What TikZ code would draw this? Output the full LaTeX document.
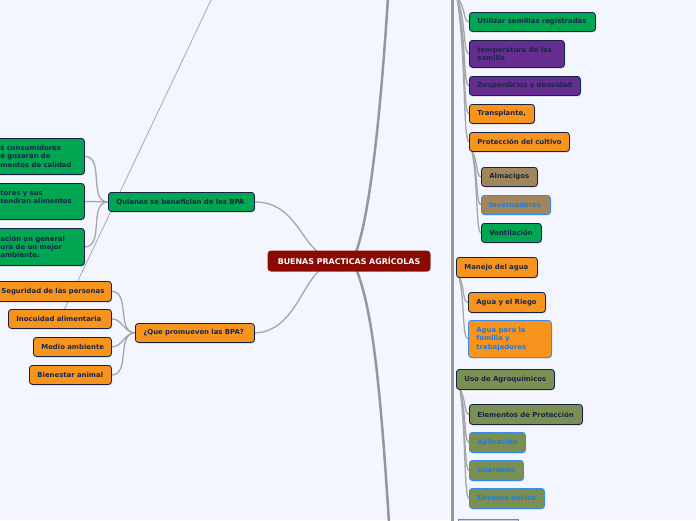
\documentclass[tikz,border=0pt]{standalone}
\usepackage{fontspec}
\setmainfont{DejaVu Sans}
\usetikzlibrary{shadows}
\definecolor{bg}{RGB}{243,246,254}
\definecolor{cgreen}{RGB}{0,166,81}
\definecolor{cpurple}{RGB}{102,45,145}
\definecolor{corange}{RGB}{247,148,29}
\definecolor{cbrown}{RGB}{160,134,90}
\definecolor{colive}{RGB}{122,143,82}
\definecolor{cred}{RGB}{140,10,4}
\definecolor{navy}{RGB}{22,34,68}
\definecolor{txt}{RGB}{26,38,72}
\definecolor{bluetxt}{RGB}{31,122,224}
\definecolor{bluebord}{RGB}{55,140,235}
\definecolor{lgrey}{RGB}{165,165,170}
\definecolor{mgrey}{RGB}{150,150,155}
\definecolor{dgline}{RGB}{175,175,182}
\pgfdeclarelayer{back}
\pgfdeclarelayer{lines}
\pgfsetlayers{back,lines,main}
\tikzset{
  box/.style={draw=navy, line width=0.8pt, rounded corners=3pt,
    font=\bfseries\fontsize{6.9}{8.3}\selectfont, text=txt,
    inner xsep=8pt, inner ysep=0pt, anchor=north west, align=left,
    drop shadow={shadow xshift=0.6pt, shadow yshift=-0.9pt, opacity=0.25, fill=black}},
  blueb/.style={draw=bluebord, text=bluetxt},
  conn/.style={draw=lgrey, line width=1.3pt},
  mainline/.style={draw=mgrey, line width=2.5pt},
  trunkline/.style={draw=mgrey, line width=3pt},
  diagline/.style={draw=dgline, line width=0.9pt}
}
\newcommand\mybox[7]{%
  \pgfmathsetmacro\bw{#4-#2}%
  \pgfmathsetmacro\bh{#5-#3}%
  \pgfmathsetmacro\tw{#4-#2-16}%
  \node[box,#6,minimum width=\bw pt,minimum height=\bh pt,text width=\tw pt] (#1) at (#2,#3) {#7};}
\begin{document}
\begin{tikzpicture}[x=1pt,y=-1pt]
\useasboundingbox (0,0) rectangle (696,520);
\begin{pgfonlayer}{back}
\fill[bg] (0,0) rectangle (696,520);
\end{pgfonlayer}

% center
\node[box, anchor=center, fill=cred, draw=cred, text=white, align=center,
  font=\bfseries\fontsize{7.9}{9}\selectfont, minimum width=162pt, minimum height=20pt] (cen) at (349,261) {BUENAS PRACTICAS AGRÍCOLAS};

% left side
\mybox{qb}{108}{192}{254}{211}{fill=cgreen}{\mbox{Quienes se benefician de las BPA}}
\mybox{lb1}{-8}{138}{84}{174}{fill=cgreen}{\mbox{s consumidores}\\\mbox{e gozaran de}\\\mbox{mentos de calidad}}
\mybox{lb2}{-8}{183}{84}{219}{fill=cgreen}{\mbox{tores y sus}\\\mbox{tendran alimentos}\\\mbox{}}
\mybox{lb3}{-8}{228}{84}{265}{fill=cgreen}{\mbox{ación en general}\\\mbox{ura de un mejor}\\\mbox{ambiente.}}
\mybox{qp}{135}{323}{254}{342}{fill=corange}{\mbox{¿Que promueven las BPA?}}
\mybox{sg}{-7}{281}{111}{301}{fill=corange}{\mbox{Seguridad de las personas}}
\mybox{in}{8}{309}{111}{328}{fill=corange}{\mbox{Inocuidad alimentaria}}
\mybox{ma}{33}{337}{111}{356}{fill=corange}{\mbox{Medio ambiente}}
\mybox{ba}{29}{365}{111}{384}{fill=corange}{\mbox{Bienestar animal}}

% right side, top group
\mybox{ut}{469}{12}{595}{31}{fill=cgreen}{\mbox{Utilizar semillas registradas}}
\mybox{te}{469}{40}{564}{67}{fill=cpurple}{\mbox{temperatura de las}\\\mbox{semilla}}
\mybox{de}{469}{76}{580}{95}{fill=cpurple}{\mbox{Desperdicios y densidad}}
\mybox{tr}{469}{104}{534}{123}{fill=corange}{\mbox{Transplante,}}
\mybox{pc}{469}{132}{569}{151}{fill=corange}{\mbox{Protección del cultivo}}
\mybox{al}{481}{167}{537}{186}{fill=cbrown}{\mbox{Almacigos}}
\mybox{iv}{481}{195}{550}{214}{fill=cbrown,blueb}{\mbox{Invernaderos}}
\mybox{ve}{481}{223}{541}{242}{fill=cgreen}{\mbox{Ventilación}}

% water
\mybox{mg}{456}{257}{537}{277}{fill=corange}{\mbox{Manejo del agua}}
\mybox{ar}{468}{292}{545}{312}{fill=corange}{\mbox{Agua y el Riego}}
\mybox{af}{468}{320}{551}{357}{fill=corange,blueb}{\mbox{Agua para la}\\\mbox{familia y}\\\mbox{trabajadores}}

% agrochemicals
\mybox{ua}{456}{369}{554}{389}{fill=colive}{\mbox{Uso de Agroquímicos}}
\mybox{ep}{469}{404}{582}{424}{fill=colive}{\mbox{Elementos de Protección}}
\mybox{ap}{469}{432}{525}{452}{fill=colive,blueb}{\mbox{Aplicación}}
\mybox{gu}{469}{460}{523}{480}{fill=colive,blueb}{\mbox{Guardado}}
\mybox{ev}{469}{488}{544}{508}{fill=colive,blueb}{\mbox{Envases vacios}}

% bottom partial box
\node[draw={rgb,255:red,125;green,130;blue,150}, fill={rgb,255:red,205;green,208;blue,220}, line width=1.2pt,
  anchor=north west, minimum width=60pt, minimum height=20pt, inner sep=0pt] (bt) at (458,519) {};

% named free ends
\coordinate (c1) at (318,252);
\coordinate (c2) at (319,271);
\coordinate (c3) at (356,252);
\coordinate (c4) at (357,271);
\coordinate (topend) at (388,-3);
\coordinate (botend) at (389,523);
\coordinate (dg) at (212,-2);
\coordinate (tk1) at (452,-5);
\coordinate (tk2) at (452,525);
\coordinate (tp) at (457,-3);
\coordinate (pcs) at (472,151);
\coordinate (mgs) at (459,277);
\coordinate (uas) at (460,389);

\begin{pgfonlayer}{lines}
\draw[diagline] (dg) -- (in.center);
\draw[trunkline] (tk1) -- (tk2);
\draw[mainline] (c3) .. controls (370,215) and (381,110) .. (topend);
\draw[mainline] (c4) .. controls (372,310) and (380,380) .. (botend);
\draw[conn] (qb.east) .. controls (292,202) and (300,238) .. (c1);
\draw[conn] (qp.east) .. controls (292,332) and (302,285) .. (c2);
% left children
\draw[conn] (qb.west) to[out=180,in=0] (lb1.east);
\draw[conn] (qb.west) to[out=180,in=0] (lb2.east);
\draw[conn] (qb.west) to[out=180,in=0] (lb3.east);
\draw[conn] (qp.west) to[out=180,in=0] (sg.east);
\draw[conn] (qp.west) to[out=180,in=0] (in.east);
\draw[conn] (qp.west) to[out=180,in=0] (ma.east);
\draw[conn] (qp.west) to[out=180,in=0] (ba.east);
% top group
\draw[conn] (tp) .. controls (466,8) and (463,21.5) .. (ut.west);
\draw[conn] (tp) .. controls (466,20) and (463,53.5) .. (te.west);
\draw[conn] (tp) .. controls (466,33) and (463,85.5) .. (de.west);
\draw[conn] (tp) .. controls (466,44) and (463,113.5) .. (tr.west);
\draw[conn] (tp) .. controls (466,55) and (463,141.5) .. (pc.west);
% proteccion
\draw[conn] (pcs) .. controls (478,161) and (476,176.5) .. (al.west);
\draw[conn] (pcs) .. controls (478,172) and (476,204.5) .. (iv.west);
\draw[conn] (pcs) .. controls (478,184) and (476,232.5) .. (ve.west);
% water
\draw[conn] (mgs) .. controls (465,287) and (462,302) .. (ar.west);
\draw[conn] (mgs) .. controls (465,302) and (462,338.5) .. (af.west);
% agro
\draw[conn] (uas) .. controls (466,399) and (464,414) .. (ep.west);
\draw[conn] (uas) .. controls (466,410) and (464,442) .. (ap.west);
\draw[conn] (uas) .. controls (466,421) and (464,470) .. (gu.west);
\draw[conn] (uas) .. controls (466,433) and (464,498) .. (ev.west);
\end{pgfonlayer}
\end{tikzpicture}
\end{document}
